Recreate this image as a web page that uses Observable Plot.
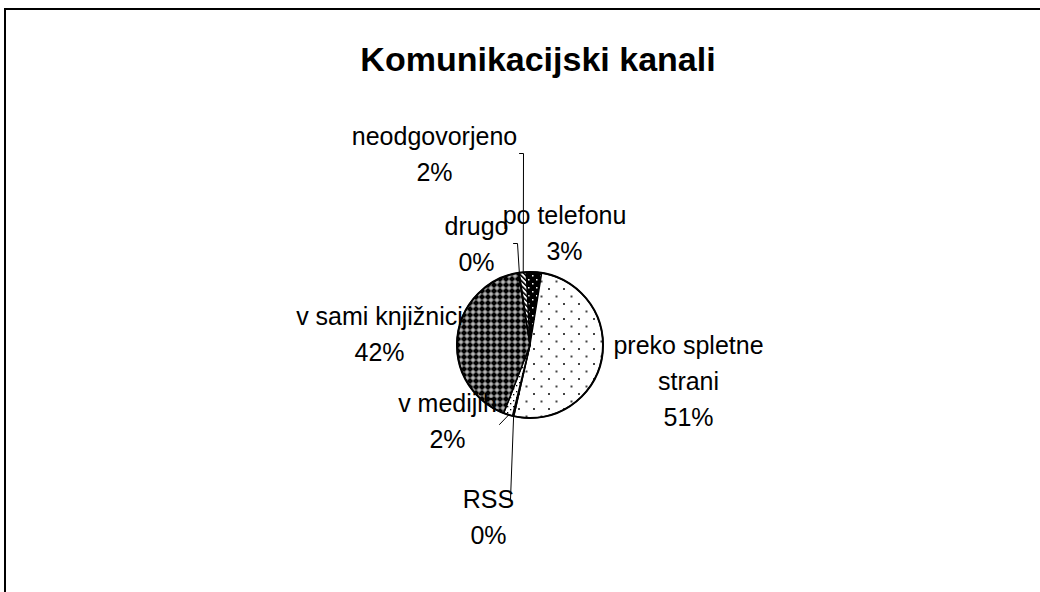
<!DOCTYPE html>
<html><head><meta charset="utf-8">
<script src="https://cdn.jsdelivr.net/npm/d3@7"></script>
<script src="https://cdn.jsdelivr.net/npm/@observablehq/plot@0.6"></script>
<style>
html,body{margin:0;padding:0;background:#fff;overflow:hidden;width:1040px;height:592px;}
#frame{position:absolute;left:4px;top:8px;width:1200px;height:800px;border:2px solid #000;box-sizing:border-box;}
#title{position:absolute;left:0;width:1076px;top:40px;line-height:34px;text-align:center;font:bold 34px "Liberation Sans",Arial,sans-serif;color:#000;}
#chart{position:absolute;left:0;top:0;}
</style></head><body>
<div id="frame"></div>
<div id="chart"></div>
<div id="title">Komunikacijski kanali</div>
<script>
// ---- data ----
const categories = ["po telefonu", "preko spletne\nstrani", "RSS", "v medijih", "v sami knjižnici", "drugo", "neodgovorjeno"];
const shares = [3.4, 51.0, 0.3, 2.0, 41.6, 0.2, 1.5];
const patternIds = ["p-tel", "p-web", "p-rss", "p-med", "p-lib", "p-oth", "p-none"];

// ---- layout ----
const pie = {cx: 530, cy: 345, r: 73, startDeg: -3};
const labelPos = [[564, 230], [688, 378], [488, 514], [447, 418], [379, 331], [476, 241], [434, 151]];
const leaderLayout = [
  {i: 6, pts: [[523, 153], [519, 153]]},
  {i: 5, pts: [[517, 243], [513, 243]]},
  {i: 2, pts: [[510, 499], [505, 499]]},
  {i: 3, pts: [[499, 424]]}
];

const arcs = d3.pie().sort(null).value(d => d)
  .startAngle(pie.startDeg * Math.PI / 180)
  .endAngle(pie.startDeg * Math.PI / 180 + 2 * Math.PI)(shares);
const arcGen = d3.arc().innerRadius(0).outerRadius(pie.r);

const labelData = categories.map((c, i) => ({
  text: c + "\n" + Math.round(shares[i]) + "%",
  x: labelPos[i][0], y: labelPos[i][1]
}));

const leaderData = [];
leaderLayout.forEach(({i, pts}) => {
  const a = (arcs[i].startAngle + arcs[i].endAngle) / 2;
  leaderData.push({id: i, x: pie.cx + pie.r * Math.sin(a), y: pie.cy - pie.r * Math.cos(a)});
  pts.forEach(p => leaderData.push({id: i, x: p[0], y: p[1]}));
});

function pieMark(index, scales, values, dimensions, context) {
  const g = d3.create("svg:g");
  const defs = g.append("defs");
  const pat = (id, w, h) => defs.append("pattern").attr("id", id).attr("patternUnits", "userSpaceOnUse").attr("width", w).attr("height", h);
  let p = pat("p-tel", 8, 8);
  p.append("rect").attr("width", 8).attr("height", 8).attr("fill", "#000");
  p.append("rect").attr("x", 2).attr("y", 2).attr("width", 1.5).attr("height", 1.5).attr("fill", "#fff");
  p.append("rect").attr("x", 6).attr("y", 6).attr("width", 1.5).attr("height", 1.5).attr("fill", "#fff");
  p = pat("p-web", 15, 15);
  p.append("rect").attr("width", 15).attr("height", 15).attr("fill", "#fff");
  p.append("rect").attr("x", 3).attr("y", 3).attr("width", 2).attr("height", 2).attr("fill", "#444");
  p.append("rect").attr("x", 10.5).attr("y", 10.5).attr("width", 2).attr("height", 2).attr("fill", "#444");
  p = pat("p-rss", 4, 4);
  p.append("rect").attr("width", 4).attr("height", 4).attr("fill", "#fff");
  p.append("rect").attr("x", 1).attr("y", 1).attr("width", 1).attr("height", 1).attr("fill", "#000");
  p = pat("p-med", 6, 6);
  p.append("rect").attr("width", 6).attr("height", 6).attr("fill", "#fff");
  p.append("rect").attr("x", 1).attr("y", 1).attr("width", 1.3).attr("height", 1.3).attr("fill", "#000");
  p.append("rect").attr("x", 4).attr("y", 4).attr("width", 1.3).attr("height", 1.3).attr("fill", "#000");
  p = pat("p-lib", 6, 6);
  p.append("rect").attr("width", 6).attr("height", 6).attr("fill", "#8a8a8a");
  ["0,0 3,0 0,3", "6,0 6,3 3,0", "0,6 0,3 3,6", "6,6 3,6 6,3"].forEach(pt =>
    p.append("polygon").attr("points", pt).attr("fill", "#000"));
  p.append("rect").attr("x", 2.4).attr("y", 2.4).attr("width", 1.2).attr("height", 1.2).attr("fill", "#fff");
  p = pat("p-oth", 4, 4);
  p.append("rect").attr("width", 4).attr("height", 4).attr("fill", "#fff");
  p = pat("p-none", 3.5, 3.5).attr("patternTransform", "rotate(-45)");
  p.append("rect").attr("width", 3.5).attr("height", 3.5).attr("fill", "#fff");
  p.append("rect").attr("width", 1.6).attr("height", 3.5).attr("fill", "#000");

  const s = g.append("g").attr("transform", `translate(${pie.cx},${pie.cy})`);
  s.selectAll("path").data(arcs).join("path")
    .attr("d", arcGen)
    .attr("fill", (d, i) => `url(#${patternIds[i]})`)
    .attr("stroke", "#000").attr("stroke-width", 1.4).attr("stroke-linejoin", "round");
  s.append("circle").attr("r", pie.r).attr("fill", "none").attr("stroke", "#000").attr("stroke-width", 2);
  return g.node();
}

const chart = Plot.plot({
  width: 1040, height: 592, margin: 0,
  x: {type: "identity", axis: null},
  y: {type: "identity", axis: null},
  style: {background: "transparent", overflow: "visible"},
  marks: [
    pieMark,
    Plot.line(leaderData, {x: "x", y: "y", z: "id", stroke: "#000", strokeWidth: 1}),
    Plot.text(labelData, {x: "x", y: "y", text: "text", fontSize: 25, lineHeight: 1.45,
      fontFamily: "'Liberation Sans', Arial, sans-serif", fill: "#000", textAnchor: "middle"})
  ]
});
document.getElementById("chart").appendChild(chart);
</script>
</body></html>
